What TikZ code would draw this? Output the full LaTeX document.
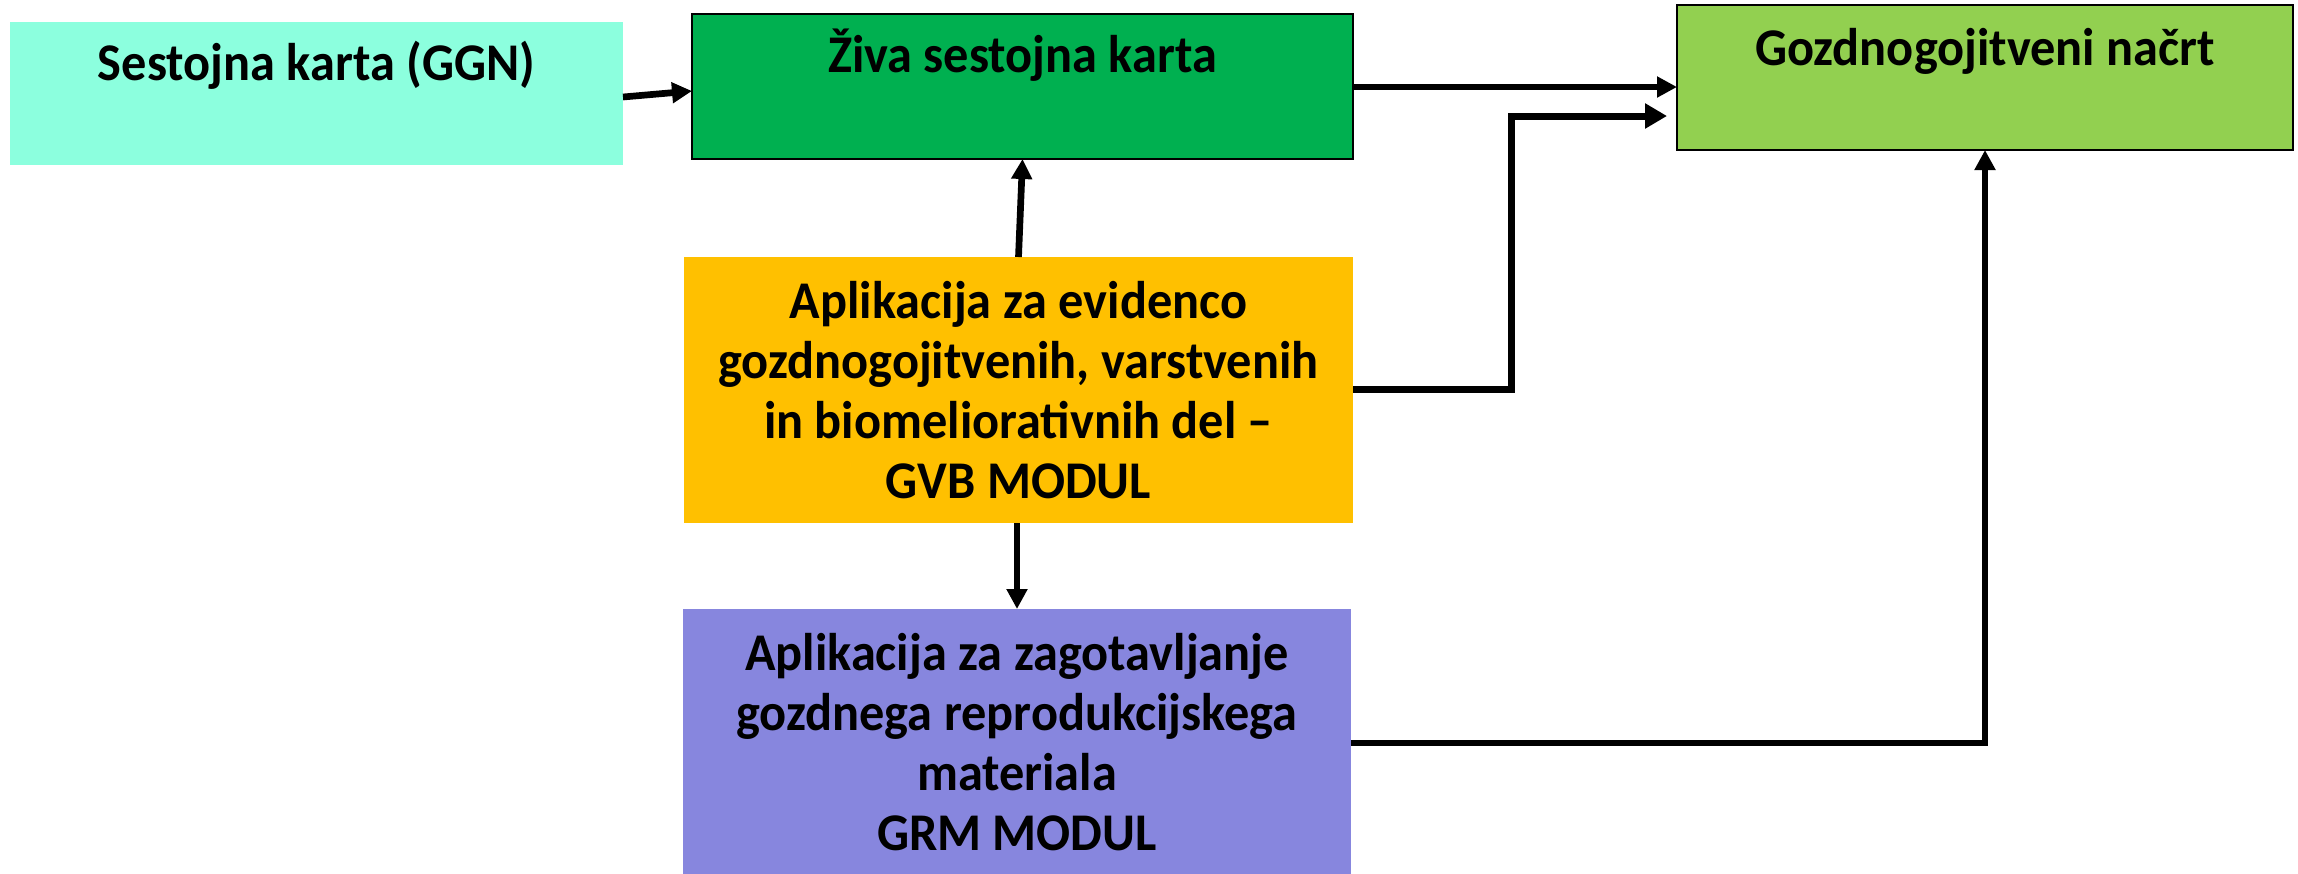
\documentclass[tikz,border=0pt]{standalone}
\usepackage{fontspec}
\setmainfont{Carlito}[FakeStretch=0.95]
\usetikzlibrary{arrows.meta}
\definecolor{cAqua}{RGB}{140,255,222}
\definecolor{cGreen}{RGB}{0,176,80}
\definecolor{cLime}{RGB}{146,208,80}
\definecolor{cGold}{RGB}{255,192,0}
\definecolor{cViolet}{RGB}{135,134,222}
\begin{document}
\begin{tikzpicture}[x=1pt,y=-1pt,
  box/.style={font=\fontsize{53}{60}\selectfont\bfseries, inner sep=0pt, outer sep=0pt, align=center, text=black},
  conn/.style={line width=6.7pt, -{Triangle[length=20pt,width=20pt]}},
  bigconn/.style={line width=7pt, -{Triangle[length=22pt,width=24pt]}}
]
\useasboundingbox (0,0) rectangle (2298,873);
\node[box, fill=cAqua, minimum width=613pt, text height=58pt, text depth=85pt, anchor=base] (sest) at (316.5,80) {Sestojna karta (GGN)};
\node[box, fill=cGreen, draw=black, line width=2pt, minimum width=661pt, text height=58pt, text depth=87pt, anchor=base] (ziva) at (1022.5,72) {Živa sestojna karta};
\node[box, fill=cLime, draw=black, line width=2pt, minimum width=616pt, text height=60pt, text depth=85pt, anchor=base] (gozd) at (1985,65) {Gozdnogojitveni načrt};
\node[box, fill=cGold, minimum width=669pt, minimum height=266pt] (gvb) at (1018.5,390) {Aplikacija za evidenco\\gozdnogojitvenih, varstvenih\\in biomeliorativnih del –\\GVB MODUL};
\node[box, fill=cViolet, minimum width=668pt, minimum height=266pt] (grm) at (1017,742) {Aplikacija za zagotavljanje\\gozdnega reprodukcijskega\\materiala\\GRM MODUL};
\coordinate (bend) at (1511,116);
\coordinate (gozdin) at (1667,116);
\draw[conn] (sest.east |- 0,97) -- (ziva.west |- 0,91);
\draw[conn] (ziva.east |- 0,87) -- (gozd.west |- 0,87);
\draw[conn] (gvb.north) -- (ziva.south);
\draw[bigconn] (gvb.east |- 0,389) -| (bend) -- (gozdin);
\draw[conn] (gvb.south -| grm.north) -- (grm.north);
\draw[conn] (grm.east |- 0,743) -| (gozd.south);
\end{tikzpicture}
\end{document}
